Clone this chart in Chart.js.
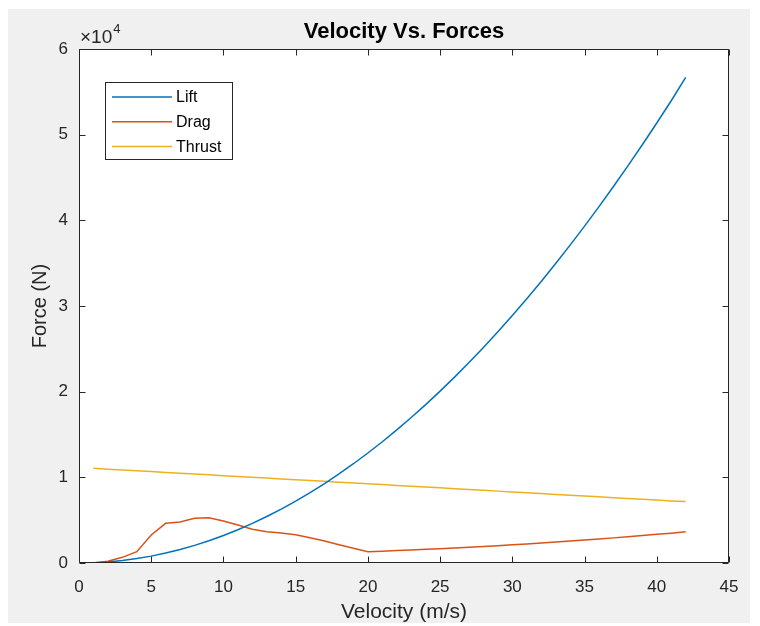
<!DOCTYPE html>
<html><head><meta charset="utf-8">
<script src="https://cdn.jsdelivr.net/npm/chart.js@4.4.0/dist/chart.umd.min.js"></script>
<style>html,body{margin:0;padding:0;background:#fff;}#wrap{position:relative;width:760px;height:626px;}</style>
</head><body><div id="wrap"><canvas id="c" width="760" height="626"></canvas></div>
<script>
const velocity = [1,2,3,4,5,6,7,8,9,10,11,12,13,14,15,16,17,18,19,20,21,22,23,24,25,26,27,28,29,30,31,32,33,34,35,36,37,38,39,40,41,42];
const lift = [32,128,289,514,803,1156,1573,2054,2600,3210,3884,4622,5425,6292,7223,8218,9277,10400,11588,12840,14156,15536,16981,18490,20063,21700,23401,25166,26996,28890,30848,32870,34957,37108,39323,41602,43945,46352,48824,51360,53960,56700];
const drag = [0,200,660,1320,3270,4630,4780,5210,5290,4900,4440,3930,3650,3500,3300,2950,2570,2140,1710,1320,1382,1448,1518,1592,1670,1752,1839,1930,2025,2124,2227,2335,2446,2562,2681,2805,2933,3065,3201,3342,3486,3635];
const thrust = [11050,10955,10860,10765,10670,10575,10480,10385,10290,10195,10100,10005,9910,9815,9720,9625,9530,9435,9340,9245,9150,9055,8960,8865,8770,8675,8580,8485,8390,8295,8200,8105,8010,7915,7820,7725,7630,7535,7440,7345,7250,7175];
const seriesNames = ['Lift','Drag','Thrust'];
const chartTitle = 'Velocity Vs. Forces';
const xTickStep = 5;
const yTickStep = 10000;
const yExponentLabel = ['×10','4'];

const FONT = '"Liberation Sans", Arial, Helvetica, sans-serif';
const INK = '#262626';
const colors = ['#0072BD','#D95319','#EDB120'];

function pts(ys){ return velocity.map((v,i)=>({x:v,y:ys[i]})); }

const matlabPlugin = {
  id:'matlab',
  beforeDraw(chart){
    const {ctx, chartArea:a} = chart;
    ctx.save();
    ctx.fillStyle='#ffffff'; ctx.fillRect(0,0,chart.width,chart.height);
    ctx.fillStyle='#f0f0f0'; ctx.fillRect(8,9,742,614);
    ctx.fillStyle='#ffffff'; ctx.fillRect(a.left,a.top,a.right-a.left,a.bottom-a.top);
    ctx.restore();
  },
  afterDatasetsDraw(chart){
    const {ctx, chartArea:a, scales} = chart;
    ctx.save();
    ctx.strokeStyle=INK; ctx.lineWidth=1;
    const L=Math.round(a.left)+0.5, R=Math.round(a.right)-0.5, T=Math.round(a.top)+0.5, B=Math.round(a.bottom)-0.5;
    ctx.beginPath();
    ctx.rect(L,T,R-L,B-T);
    const tl=6;
    scales.x.ticks.forEach(t=>{
      const px=Math.round(scales.x.getPixelForValue(t.value))+0.5;
      ctx.moveTo(px,B); ctx.lineTo(px,B-tl);
      ctx.moveTo(px,T); ctx.lineTo(px,T+tl);
    });
    scales.y.ticks.forEach(t=>{
      const py=Math.round(scales.y.getPixelForValue(t.value))+0.5;
      ctx.moveTo(L,py); ctx.lineTo(L+tl,py);
      ctx.moveTo(R,py); ctx.lineTo(R-tl,py);
    });
    ctx.stroke();
    // title
    ctx.fillStyle='#000'; ctx.textAlign='center'; ctx.textBaseline='alphabetic';
    ctx.font='bold 22px '+FONT;
    ctx.fillText(chartTitle,(a.left+a.right)/2,38);
    // exponent label
    ctx.fillStyle=INK; ctx.textAlign='left';
    ctx.font='19px '+FONT;
    ctx.fillText(yExponentLabel[0], a.left+1, a.top-6);
    const w=ctx.measureText(yExponentLabel[0]).width;
    ctx.font='13px '+FONT;
    ctx.fillText(yExponentLabel[1], a.left+1+w+1, a.top-16);
    // legend
    const bx=105.5, by=82.5, bw=127, bh=77;
    ctx.fillStyle='#ffffff'; ctx.fillRect(bx,by,bw,bh);
    ctx.strokeStyle=INK; ctx.lineWidth=1; ctx.strokeRect(bx,by,bw,bh);
    ctx.font='16px '+FONT; ctx.textBaseline='middle';
    chart.data.datasets.forEach((ds,i)=>{
      const y=97+i*24.7;
      ctx.strokeStyle=ds.borderColor; ctx.lineWidth=1.5;
      ctx.beginPath(); ctx.moveTo(112,y); ctx.lineTo(172,y); ctx.stroke();
      ctx.fillStyle='#000'; ctx.fillText(ds.label,176,y+1);
    });
    ctx.restore();
  }
};

new Chart(document.getElementById('c'),{
  type:'line',
  data:{datasets:[
    {label:seriesNames[0],data:pts(lift),borderColor:colors[0]},
    {label:seriesNames[1],data:pts(drag),borderColor:colors[1]},
    {label:seriesNames[2],data:pts(thrust),borderColor:colors[2]}
  ]},
  options:{
    responsive:false, animation:false, devicePixelRatio:1,
    elements:{line:{borderWidth:1.5,tension:0,fill:false},point:{radius:0}},
    layout:{padding:{left:0,top:49,right:31,bottom:0}},
    plugins:{legend:{display:false}, tooltip:{enabled:false}, title:{display:false}},
    scales:{
      x:{type:'linear',min:0,max:45,
        ticks:{stepSize:xTickStep,color:INK,font:{family:FONT,size:17},padding:14,maxRotation:0,autoSkip:false},
        grid:{display:false,drawTicks:false},border:{display:false},
        title:{display:true,text:'Velocity (m/s)',color:INK,font:{family:FONT,size:21},padding:{top:0,bottom:1}},
        afterFit(s){s.height=63;}
      },
      y:{type:'linear',min:0,max:60000,
        ticks:{stepSize:yTickStep,color:INK,font:{family:FONT,size:17},padding:11,callback:v=>v/yTickStep},
        grid:{display:false,drawTicks:false},border:{display:false},
        title:{display:true,text:'Force (N)',color:INK,font:{family:FONT,size:20},padding:{top:28,bottom:0}},
        afterFit(s){s.width=79;}
      }
    }
  },
  plugins:[matlabPlugin]
});
</script></body></html>
